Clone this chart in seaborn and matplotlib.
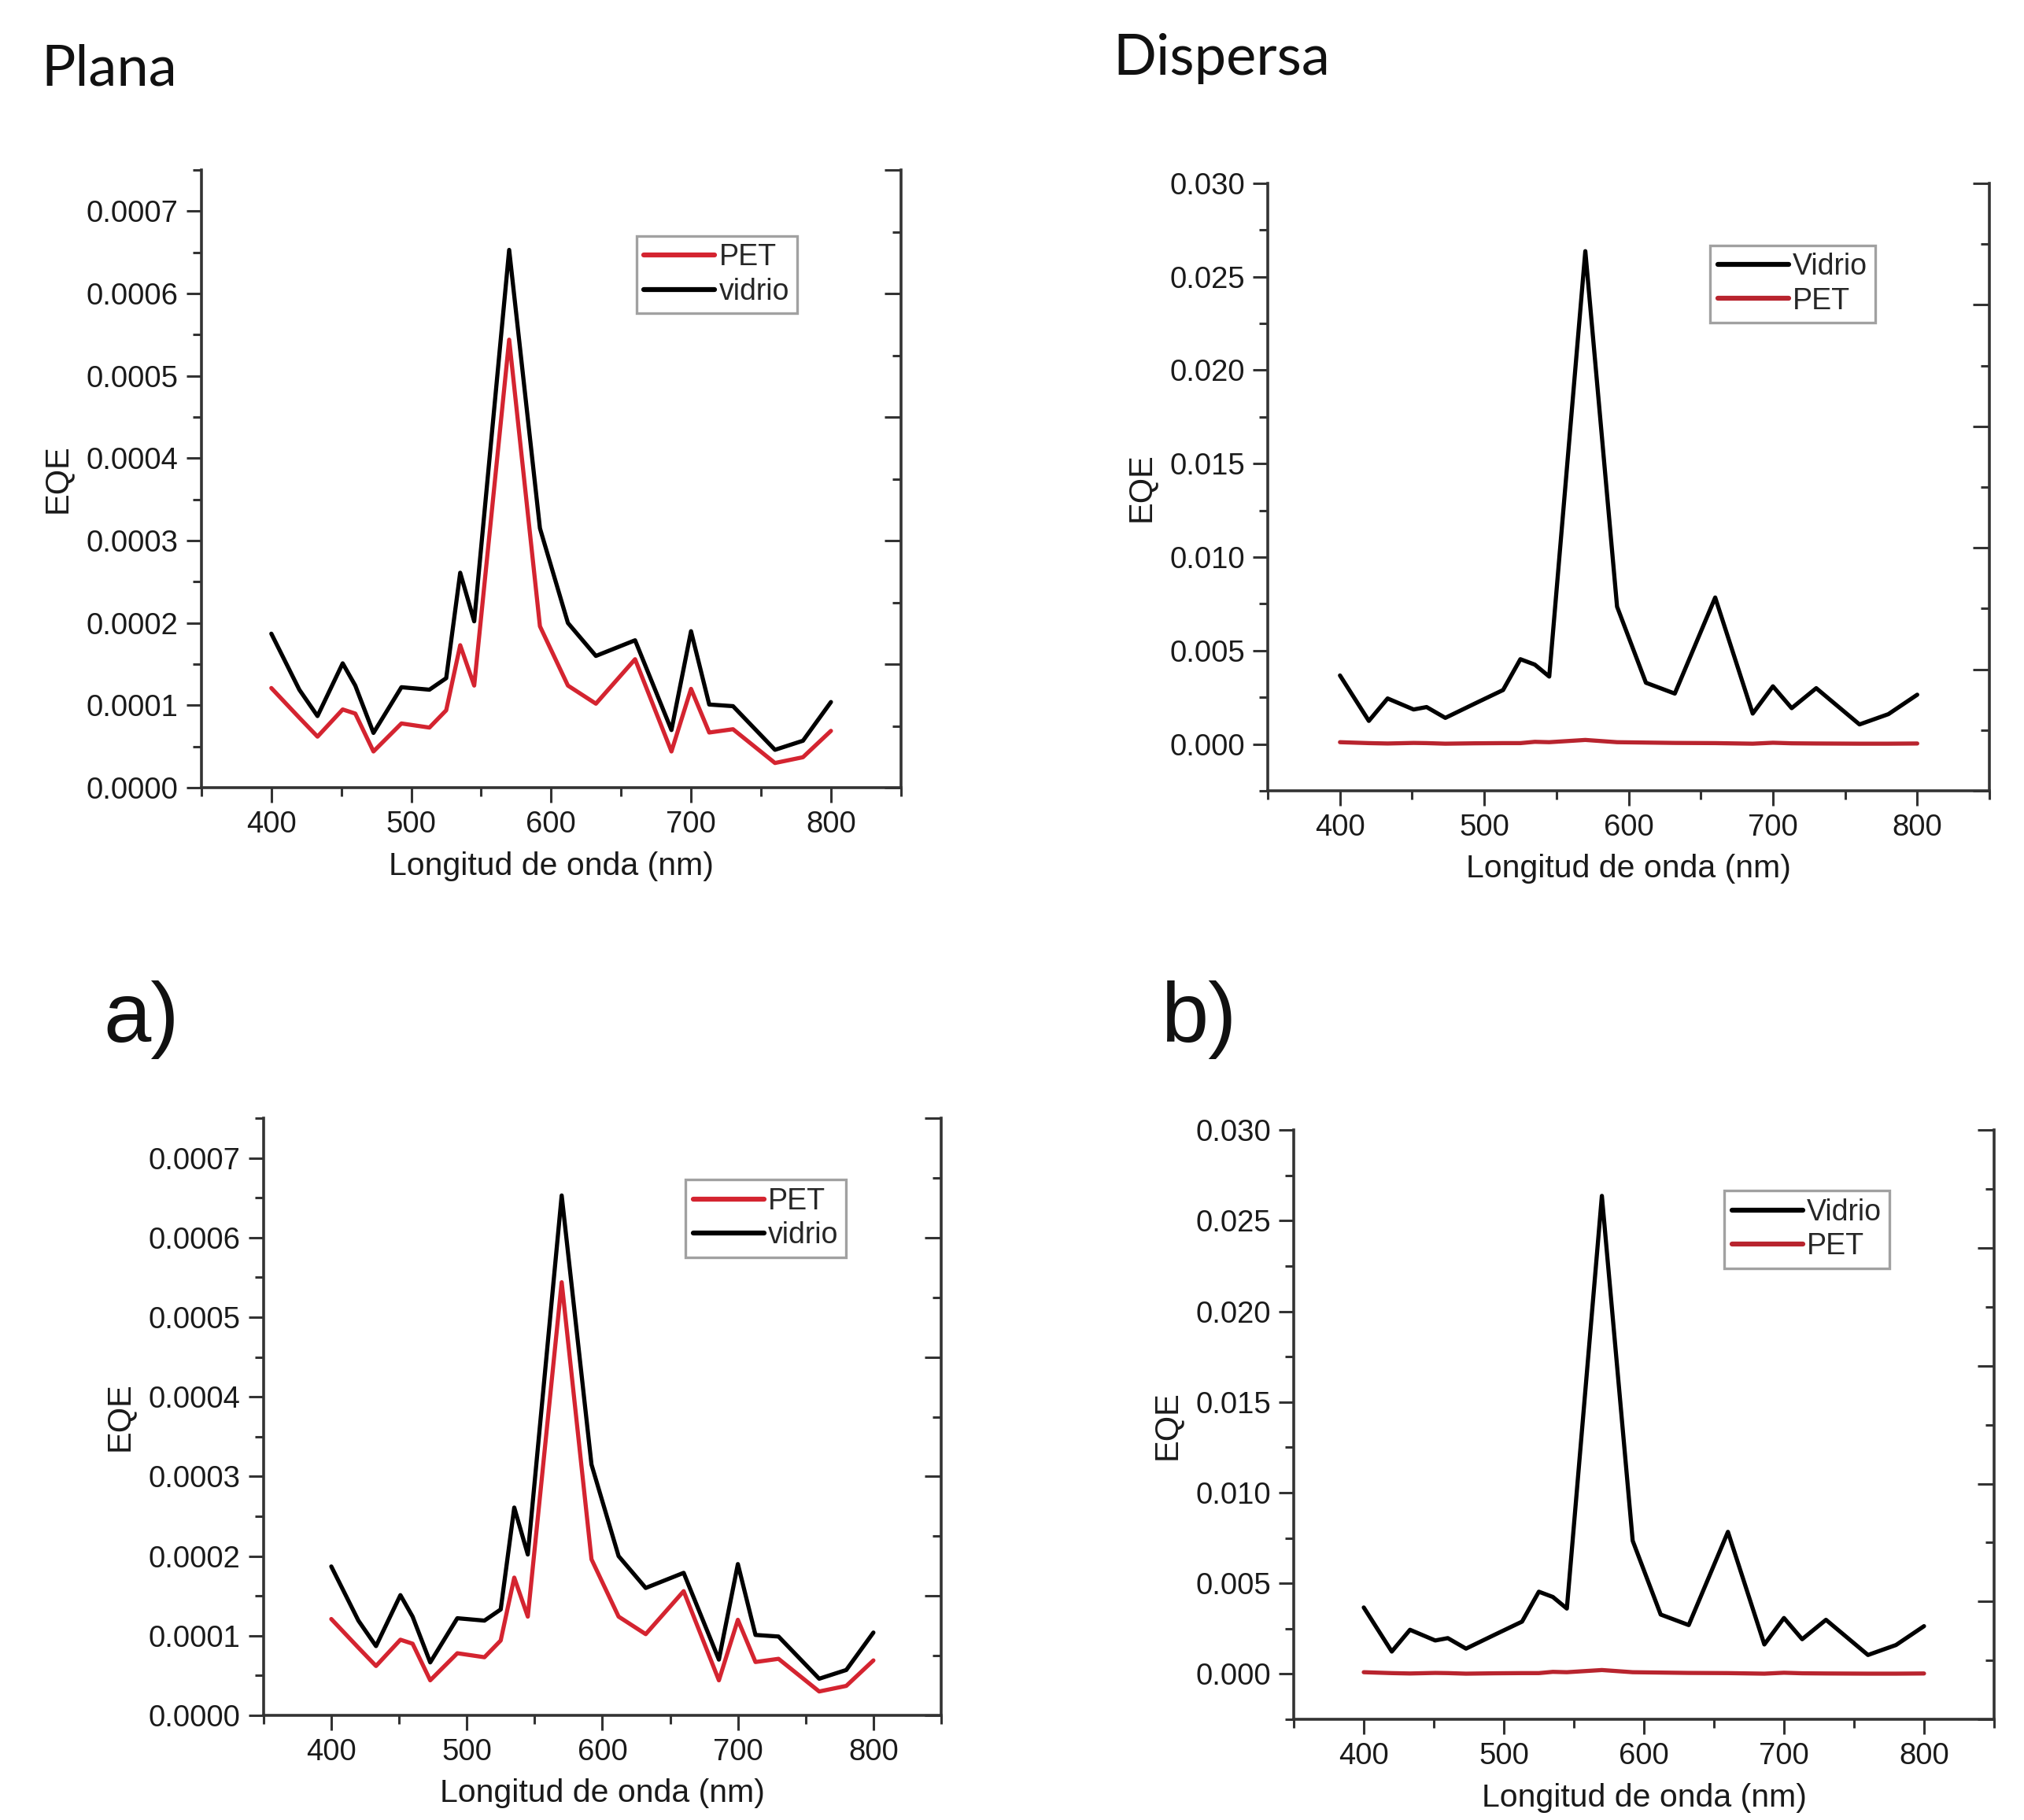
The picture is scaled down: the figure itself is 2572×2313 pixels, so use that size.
import matplotlib
matplotlib.use("Agg")
import matplotlib.pyplot as plt
import seaborn as sns
from matplotlib.ticker import MultipleLocator, FormatStrFormatter

sns.set_style("ticks")
plt.rcParams['font.family'] = ['Liberation Sans', 'DejaVu Sans']

# longitud de onda (nm), misma rejilla para todas las curvas
wavelength = [400, 420, 433, 451, 460, 473, 493, 513, 525, 535, 545, 570,
              592, 612, 632, 660, 686, 700, 713, 730, 760, 780, 800]

# EQE muestra plana
plana_pet = [1.21e-4, 0.85e-4, 0.62e-4, 0.95e-4, 0.90e-4, 0.44e-4, 0.78e-4, 0.73e-4,
             0.94e-4, 1.73e-4, 1.24e-4, 5.44e-4, 1.96e-4, 1.24e-4, 1.02e-4, 1.56e-4,
             0.44e-4, 1.20e-4, 0.67e-4, 0.71e-4, 0.30e-4, 0.37e-4, 0.69e-4]
plana_vidrio = [1.87e-4, 1.19e-4, 0.87e-4, 1.51e-4, 1.24e-4, 0.665e-4, 1.22e-4, 1.19e-4,
                1.33e-4, 2.61e-4, 2.02e-4, 6.53e-4, 3.15e-4, 2.00e-4, 1.60e-4, 1.79e-4,
                0.70e-4, 1.90e-4, 1.01e-4, 0.99e-4, 0.46e-4, 0.57e-4, 1.04e-4]

# EQE muestra dispersa
dispersa_vidrio = [3.67e-3, 1.24e-3, 2.44e-3, 1.85e-3, 1.98e-3, 1.40e-3, 2.15e-3, 2.89e-3,
                   4.54e-3, 4.25e-3, 3.61e-3, 26.37e-3, 7.35e-3, 3.28e-3, 2.70e-3, 7.84e-3,
                   1.63e-3, 3.09e-3, 1.92e-3, 2.99e-3, 1.05e-3, 1.60e-3, 2.64e-3]
dispersa_pet = [0.10e-3, 0.05e-3, 0.03e-3, 0.06e-3, 0.05e-3, 0.02e-3, 0.04e-3, 0.05e-3,
                0.05e-3, 0.12e-3, 0.10e-3, 0.22e-3, 0.10e-3, 0.08e-3, 0.06e-3, 0.05e-3,
                0.02e-3, 0.07e-3, 0.04e-3, 0.03e-3, 0.02e-3, 0.02e-3, 0.03e-3]

RED = '#d42430'
SPINE = '#333333'

fig = plt.figure(figsize=(25.72, 23.13), dpi=100)


def draw_panel(rect, series, ylim, ystep, fmt, legend_xy):
    ax = fig.add_axes(rect)
    for name, vals, color in series:
        sns.lineplot(x=wavelength, y=vals, ax=ax, color=color, lw=3.8, label=name)
    ax.set_xlim(350, 850)
    ax.set_ylim(*ylim)
    ax.xaxis.set_major_locator(MultipleLocator(100))
    ax.xaxis.set_minor_locator(MultipleLocator(50))
    ax.yaxis.set_major_locator(MultipleLocator(ystep))
    ax.yaxis.set_minor_locator(MultipleLocator(ystep / 2))
    ax.yaxis.set_major_formatter(FormatStrFormatter(fmt))
    ax.tick_params(which='major', direction='out', length=14, width=2.2,
                   labelsize=27.5, pad=7, colors=SPINE, labelcolor='#1a1a1a')
    ax.tick_params(which='minor', direction='out', length=8, width=2.2, colors=SPINE)
    ax.spines['top'].set_visible(False)
    ax.spines['right'].set_visible(False)
    for s in ('left', 'bottom'):
        ax.spines[s].set_linewidth(2.6)
        ax.spines[s].set_color(SPINE)
    ax.set_xlabel('Longitud de onda (nm)', fontsize=29.5, labelpad=11, color='#1a1a1a')
    ax.set_ylabel('EQE', fontsize=30, labelpad=12, color='#1a1a1a')

    # eje derecho sin etiquetas (estilo Origin)
    tw = ax.twinx()
    tw.set_ylim(0, 10)
    tw.yaxis.set_major_locator(MultipleLocator(2))
    tw.yaxis.set_minor_locator(MultipleLocator(1))
    tw.tick_params(which='major', direction='in', length=15, width=2.2,
                   labelright=False, colors=SPINE)
    tw.tick_params(which='minor', direction='in', length=8, width=2.2, colors=SPINE)
    for s in ('top', 'left', 'bottom'):
        tw.spines[s].set_visible(False)
    tw.spines['right'].set_linewidth(2.6)
    tw.spines['right'].set_color(SPINE)

    leg = ax.legend(loc='upper left', bbox_to_anchor=legend_xy, borderaxespad=0,
                    fontsize=27, frameon=True, fancybox=False, edgecolor='#8a8a8a',
                    handlelength=2.4, handletextpad=0.15, borderpad=0.25,
                    labelspacing=0.2)
    leg.get_frame().set_linewidth(2.4)
    for line in leg.get_lines():
        line.set_linewidth(4.5)
    return ax


plana_series = [('PET', plana_pet, RED), ('vidrio', plana_vidrio, 'black')]
dispersa_series = [('Vidrio', dispersa_vidrio, 'black'), ('PET', dispersa_pet, '#b8242e')]

draw_panel([0.0995, 0.5672, 0.3456, 0.3394], plana_series, (0, 0.00075), 0.0001, '%.4f', (0.622, 0.893))
draw_panel([0.6264, 0.5655, 0.3565, 0.3338], dispersa_series, (-0.0025, 0.030), 0.005, '%.3f', (0.613, 0.898))
draw_panel([0.1302, 0.0575, 0.3348, 0.3281], plana_series, (0, 0.00075), 0.0001, '%.4f', (0.623, 0.897))
draw_panel([0.6392, 0.0553, 0.3460, 0.3238], dispersa_series, (-0.0025, 0.030), 0.005, '%.3f', (0.615, 0.897))

fig.text(0.0202, 0.953, 'Plana', fontsize=52, family='Lato', va='baseline', color='#111111')
fig.text(0.5498, 0.959, 'Dispersa', fontsize=52, family='Lato', va='baseline', color='#111111')
fig.text(0.051, 0.4276, 'a)', fontsize=78, va='baseline', color='#111111')
fig.text(0.5735, 0.4276, 'b)', fontsize=78, va='baseline', color='#111111')

fig.savefig('out.png', dpi=100, facecolor='white')
